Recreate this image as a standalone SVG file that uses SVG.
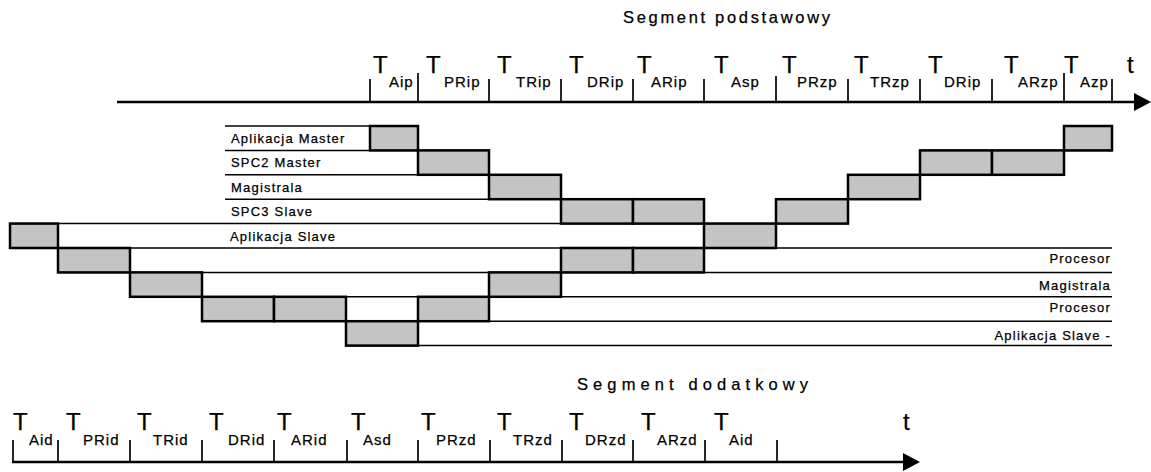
<svg xmlns="http://www.w3.org/2000/svg" width="1151" height="472" viewBox="0 0 1151 472">
<style>
text{font-family:"Liberation Sans",Arial,sans-serif;fill:#000;stroke:#000;stroke-width:0.25}
.title{font-size:16.5px}
.T{font-size:24px}
.s{font-size:15px;letter-spacing:1px}
.lbl{font-size:13px;letter-spacing:1.2px}
.lblr{font-size:13px;letter-spacing:1.2px;text-anchor:end}
.axis{stroke:#000;stroke-width:2.4;fill:none}
.tick{stroke:#000;stroke-width:1.7}
.row{stroke:#000;stroke-width:1.5}
.box{fill:#c4c4c4;stroke:#000;stroke-width:2.5}
</style>
<rect width="1151" height="472" fill="#fff"/>

<g id="top-timeline">
<text class="title" x="623" y="23" textLength="207" lengthAdjust="spacing">Segment podstawowy</text>
<g class="tick">
<line x1="370" y1="79" x2="370" y2="102"/><line x1="418" y1="73" x2="418" y2="102"/>
<line x1="489" y1="79" x2="489" y2="102"/><line x1="561" y1="79" x2="561" y2="102"/>
<line x1="633" y1="79" x2="633" y2="102"/><line x1="704" y1="79" x2="704" y2="102"/>
<line x1="776" y1="76" x2="776" y2="102"/><line x1="848" y1="79" x2="848" y2="102"/>
<line x1="920" y1="79" x2="920" y2="102"/><line x1="992" y1="79" x2="992" y2="102"/>
<line x1="1064" y1="73" x2="1064" y2="102"/><line x1="1112" y1="79" x2="1112" y2="102"/>
</g>
<text class="T" x="373" y="73">T</text><text class="s" x="389" y="87">Aip</text>
<text class="T" x="426" y="73">T</text><text class="s" x="444" y="87">PRip</text>
<text class="T" x="497" y="73">T</text><text class="s" x="516" y="87">TRip</text>
<text class="T" x="569" y="73">T</text><text class="s" x="587" y="87">DRip</text>
<text class="T" x="637" y="73">T</text><text class="s" x="651" y="87">ARip</text>
<text class="T" x="714" y="73">T</text><text class="s" x="731" y="87">Asp</text>
<text class="T" x="782" y="73">T</text><text class="s" x="797" y="87">PRzp</text>
<text class="T" x="854" y="73">T</text><text class="s" x="870" y="87">TRzp</text>
<text class="T" x="928" y="73">T</text><text class="s" x="944" y="87">DRip</text>
<text class="T" x="1004" y="73">T</text><text class="s" x="1018" y="87">ARzp</text>
<text class="T" x="1064" y="73">T</text><text class="s" x="1080" y="87">Azp</text>
<text class="T" x="1127" y="73">t</text>
</g>

<g id="connectors">
<line class="axis" x1="117" y1="102" x2="1137" y2="102"/>
<polygon points="1134,93 1151,102 1134,111" fill="#000"/>
<line class="axis" x1="12" y1="462" x2="906" y2="462"/>
<polygon points="903,453 920,462 903,471" fill="#000"/>
</g>

<g id="rows" class="row">
<line x1="225" y1="126" x2="418" y2="126"/>
<line x1="225" y1="150.4" x2="489" y2="150.4"/><line x1="920" y1="150.4" x2="1112" y2="150.4"/>
<line x1="225" y1="174.8" x2="561" y2="174.8"/><line x1="848" y1="174.8" x2="1064" y2="174.8"/>
<line x1="225" y1="199.2" x2="704" y2="199.2"/><line x1="776" y1="199.2" x2="920" y2="199.2"/>
<line x1="10" y1="223.6" x2="848" y2="223.6"/>
<line x1="10" y1="248" x2="1112" y2="248"/>
<line x1="58" y1="272.4" x2="1112" y2="272.4"/>
<line x1="130" y1="296.8" x2="1112" y2="296.8"/>
<line x1="202" y1="321.2" x2="1112" y2="321.2"/>
<line x1="346" y1="345.6" x2="1112" y2="345.6"/>
</g>

<g id="row-labels">
<text class="lbl" x="231" y="143">Aplikacja Master</text>
<text class="lbl" x="231" y="167.4">SPC2 Master</text>
<text class="lbl" x="231" y="191.8">Magistrala</text>
<text class="lbl" x="231" y="215.6">SPC3 Slave</text>
<text class="lbl" x="230" y="240.6">Aplikacja Slave</text>
<text class="lblr" x="1111" y="262.7">Procesor</text>
<text class="lblr" x="1111" y="289.5">Magistrala</text>
<text class="lblr" x="1111" y="311.7">Procesor</text>
<text class="lblr" x="1111" y="339.5">Aplikacja Slave -</text>
</g>

<g id="boxes">
<g id="b0a"><rect class="box" x="370" y="126" width="48" height="24.4"/></g>
<g id="b0b"><rect class="box" x="1064" y="126" width="48" height="24.4"/></g>
<g id="b1a"><rect class="box" x="418" y="150.4" width="71" height="24.4"/></g>
<g id="b1b"><rect class="box" x="920" y="150.4" width="72" height="24.4"/></g>
<g id="b1c"><rect class="box" x="992" y="150.4" width="72" height="24.4"/></g>
<g id="b2a"><rect class="box" x="489" y="174.8" width="72" height="24.4"/></g>
<g id="b2b"><rect class="box" x="848" y="174.8" width="72" height="24.4"/></g>
<g id="b3a"><rect class="box" x="561" y="199.2" width="72" height="24.4"/></g>
<g id="b3b"><rect class="box" x="633" y="199.2" width="71" height="24.4"/></g>
<g id="b3c"><rect class="box" x="776" y="199.2" width="72" height="24.4"/></g>
<g id="b4a"><rect class="box" x="10" y="223.6" width="48" height="24.4"/></g>
<g id="b4b"><rect class="box" x="704" y="223.6" width="72" height="24.4"/></g>
<g id="b5a"><rect class="box" x="58" y="248" width="72" height="24.4"/></g>
<g id="b5b"><rect class="box" x="561" y="248" width="72" height="24.4"/></g>
<g id="b5c"><rect class="box" x="633" y="248" width="71" height="24.4"/></g>
<g id="b6a"><rect class="box" x="130" y="272.4" width="72" height="24.4"/></g>
<g id="b6b"><rect class="box" x="489" y="272.4" width="72" height="24.4"/></g>
<g id="b7a"><rect class="box" x="202" y="296.8" width="72" height="24.4"/></g>
<g id="b7b"><rect class="box" x="274" y="296.8" width="72" height="24.4"/></g>
<g id="b7c"><rect class="box" x="418" y="296.8" width="71" height="24.4"/></g>
<g id="b8a"><rect class="box" x="346" y="321.2" width="72" height="24.4"/></g>
</g>

<g id="bottom-timeline">
<text class="title" x="577" y="390" textLength="231" lengthAdjust="spacing">Segment dodatkowy</text>
<g class="tick">
<line x1="13" y1="440" x2="13" y2="462"/><line x1="58" y1="440" x2="58" y2="462"/>
<line x1="130" y1="440" x2="130" y2="462"/><line x1="202" y1="440" x2="202" y2="462"/>
<line x1="274" y1="440" x2="274" y2="462"/><line x1="347" y1="440" x2="347" y2="462"/>
<line x1="418" y1="440" x2="418" y2="462"/><line x1="490" y1="440" x2="490" y2="462"/>
<line x1="562" y1="440" x2="562" y2="462"/><line x1="633" y1="440" x2="633" y2="462"/>
<line x1="705" y1="440" x2="705" y2="462"/><line x1="777" y1="440" x2="777" y2="462"/>
</g>
<text class="T" x="13" y="430">T</text><text class="s" x="29" y="445">Aid</text>
<text class="T" x="66" y="430">T</text><text class="s" x="83" y="445">PRid</text>
<text class="T" x="137" y="430">T</text><text class="s" x="153" y="445">TRid</text>
<text class="T" x="209" y="430">T</text><text class="s" x="228" y="445">DRid</text>
<text class="T" x="277" y="430">T</text><text class="s" x="291" y="445">ARid</text>
<text class="T" x="351" y="430">T</text><text class="s" x="363" y="445">Asd</text>
<text class="T" x="421" y="430">T</text><text class="s" x="436" y="445">PRzd</text>
<text class="T" x="497" y="430">T</text><text class="s" x="513" y="445">TRzd</text>
<text class="T" x="569" y="430">T</text><text class="s" x="585" y="445">DRzd</text>
<text class="T" x="641" y="430">T</text><text class="s" x="657" y="445">ARzd</text>
<text class="T" x="714" y="430">T</text><text class="s" x="729" y="445">Aid</text>
<text class="T" x="903" y="430">t</text>
</g>
</svg>
